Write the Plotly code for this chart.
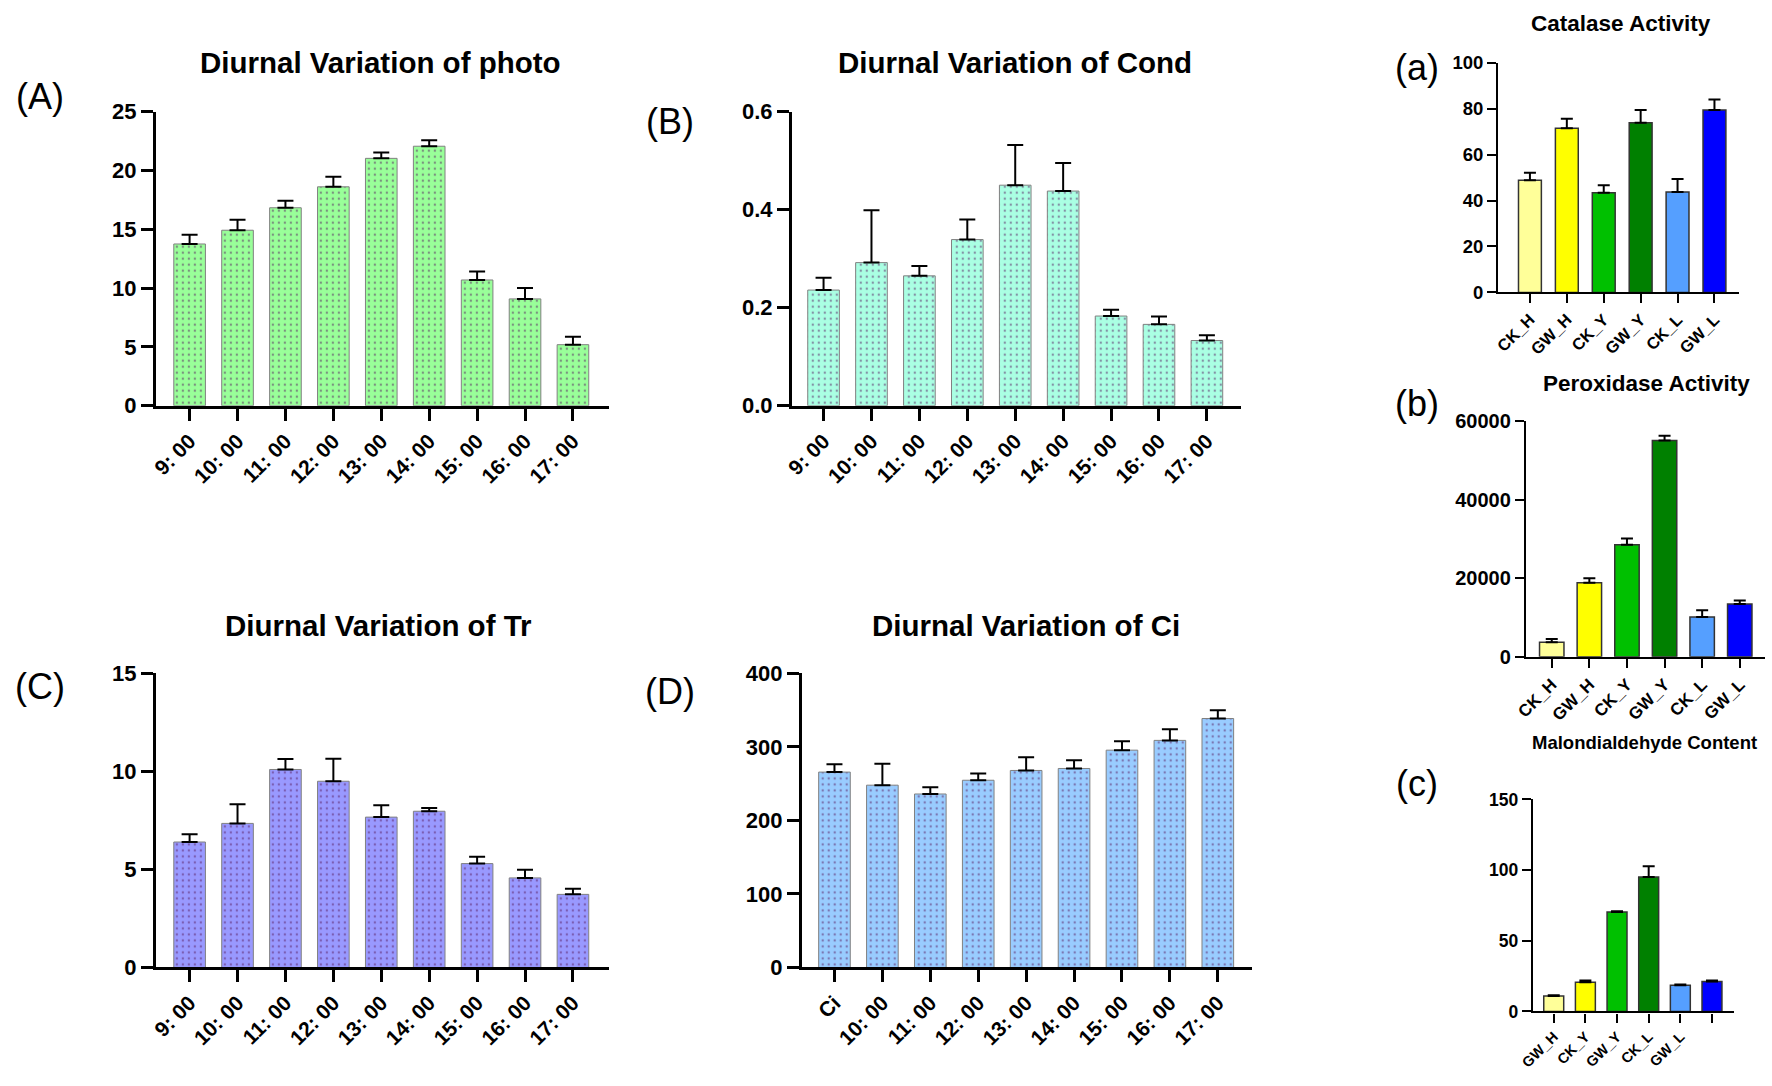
import plotly.graph_objects as go

W, H = 1772, 1086

# ---------------- data ----------------
times = ["9: 00", "10: 00", "11: 00", "12: 00", "13: 00", "14: 00", "15: 00", "16: 00", "17: 00"]
times_ci = ["Ci", "10: 00", "11: 00", "12: 00", "13: 00", "14: 00", "15: 00", "16: 00", "17: 00"]

photo_mean = [13.75, 14.92, 16.83, 18.61, 21.03, 22.06, 10.69, 9.08, 5.19]
photo_err = [0.78, 0.88, 0.59, 0.86, 0.50, 0.50, 0.73, 0.92, 0.67]

cond_mean = [0.236, 0.292, 0.265, 0.339, 0.450, 0.438, 0.183, 0.166, 0.133]
cond_err = [0.025, 0.107, 0.020, 0.041, 0.082, 0.057, 0.013, 0.016, 0.011]

tr_mean = [6.40, 7.35, 10.10, 9.50, 7.67, 7.97, 5.30, 4.57, 3.73]
tr_err = [0.40, 0.98, 0.53, 1.15, 0.60, 0.16, 0.35, 0.41, 0.29]

ci_mean = [265.8, 248.0, 236.0, 254.7, 268.0, 270.7, 295.6, 308.9, 338.7]
ci_err = [10.6, 29.3, 9.3, 9.3, 18.0, 11.3, 12.0, 15.1, 11.3]

groups = ["CK_H", "GW_H", "CK_Y", "GW_Y", "CK_L", "GW_L"]
group_colors = ["#FFFF99", "#FFFF00", "#00C000", "#008000", "#559FFF", "#0000FF"]

cat_mean = [48.8, 71.5, 43.4, 73.9, 43.7, 79.4]
cat_err = [3.3, 4.1, 3.3, 5.5, 5.7, 4.6]

pod_mean = [3730, 18840, 28550, 55100, 10120, 13440]
pod_err = [830, 1160, 1580, 1240, 1740, 910]

mda_labels = ["GW_H", "CK_Y", "GW_Y", "CK_L", "GW_L", ""]
mda_mean = [11.0, 20.7, 70.4, 95.2, 18.6, 21.2]
mda_err = [0.5, 1.2, 0.5, 7.6, 0.5, 0.7]

FONT = "Liberation Sans, Arial, sans-serif"


def fx(px):
    return px / W


def fy(py):
    return 1 - py / H


panels = [
    dict(x0=143, x1=600, first=177, step=48.3, ytop=102, ybot=403, ymax=25, dtick=5, fmt="",
         labels=times, mean=photo_mean, err=photo_err, color="#99FF99", dotted=True,
         title="Diurnal Variation of photo", tx=369, ty=52, tsize=29.5,
         tick=22, xtick=21, bw=0.66, lw=2.8, tl=12, cap=8,
         letter="(A)", lx=26, ly=86),
    dict(x0=784, x1=1237, first=816, step=48.3, ytop=102, ybot=403, ymax=0.6, dtick=0.2, fmt=".1f",
         labels=times, mean=cond_mean, err=cond_err, color="#AAFFE3", dotted=True,
         title="Diurnal Variation of Cond", tx=1009, ty=52, tsize=29.5,
         tick=22, xtick=21, bw=0.66, lw=2.8, tl=12, cap=8,
         letter="(B)", lx=661, ly=112),
    dict(x0=143, x1=600, first=177, step=48.3, ytop=677, ybot=978, ymax=15, dtick=5, fmt="",
         labels=times, mean=tr_mean, err=tr_err, color="#9999FF", dotted=True,
         title="Diurnal Variation of Tr", tx=367, ty=628, tsize=29.5,
         tick=22, xtick=21, bw=0.66, lw=2.8, tl=12, cap=8,
         letter="(C)", lx=26, ly=690),
    dict(x0=794, x1=1248, first=827, step=48.3, ytop=677, ybot=978, ymax=400, dtick=100, fmt="",
         labels=times_ci, mean=ci_mean, err=ci_err, color="#99CCFF", dotted=True,
         title="Diurnal Variation of Ci", tx=1020, ty=628, tsize=29.5,
         tick=22, xtick=21, bw=0.66, lw=2.8, tl=12, cap=8,
         letter="(D)", lx=661, ly=695),
    dict(x0=1496, x1=1739, first=1528, step=37.2, ytop=52, ybot=287, ymax=100, dtick=20, fmt="",
         labels=groups, mean=cat_mean, err=cat_err, color=group_colors, dotted=False,
         title="Catalase Activity", tx=1620, ty=12, tsize=22.5,
         tick=18.5, xtick=16.5, bw=0.62, lw=2.2, tl=9, cap=6,
         letter="(a)", lx=1414, ly=57),
    dict(x0=1524, x1=1765, first=1550, step=37.9, ytop=419, ybot=660, ymax=60000, dtick=20000, fmt="d",
         labels=groups, mean=pod_mean, err=pod_err, color=group_colors, dotted=False,
         title="Peroxidase Activity", tx=1645, ty=380, tsize=22.5,
         tick=20, xtick=17, bw=0.65, lw=2.2, tl=9, cap=6,
         letter="(b)", lx=1414, ly=401),
    dict(x0=1531, x1=1734, first=1552, step=31.9, ytop=806, ybot=1023, ymax=150, dtick=50, fmt="",
         labels=mda_labels, mean=mda_mean, err=mda_err, color=group_colors, dotted=False,
         title="Malondialdehyde Content", tx=1643, ty=748, tsize=18.5,
         tick=17.5, xtick=14.5, bw=0.63, lw=2.2, tl=9, cap=6,
         letter="(c)", lx=1414, ly=790),
]

fig = go.Figure()
annotations = []
layout_axes = {}

for i, p in enumerate(panels, start=1):
    xa = "x" if i == 1 else f"x{i}"
    ya = "y" if i == 1 else f"y{i}"
    n = len(p["mean"])
    xs = list(range(n))
    if p["dotted"]:
        marker = dict(
            color=p["color"],
            line=dict(color="#808080", width=1),
            pattern=dict(shape=".", bgcolor=p["color"], fgcolor="#5A1E62",
                         size=6, solidity=0.12, fillmode="overlay"),
        )
    else:
        marker = dict(color=p["color"], line=dict(color="#333333", width=1.5))
    fig.add_trace(go.Bar(
        x=xs, y=p["mean"], width=p["bw"], marker=marker,
        error_y=dict(type="data", array=p["err"], arrayminus=[0] * n, symmetric=False,
                     color="black", thickness=2, width=p["cap"]),
        xaxis=xa, yaxis=ya, showlegend=False, hoverinfo="skip",
    ))
    xr = [(p["x0"] - p["first"]) / p["step"], (p["x1"] - p["first"]) / p["step"]]
    key_x = "xaxis" if i == 1 else f"xaxis{i}"
    key_y = "yaxis" if i == 1 else f"yaxis{i}"
    layout_axes[key_x] = dict(
        domain=[fx(p["x0"]), fx(p["x1"])], anchor=ya, range=xr,
        tickmode="array", tickvals=xs, ticktext=p["labels"], tickangle=-45,
        showline=True, linecolor="black", linewidth=p["lw"],
        ticks="outside", ticklen=p["tl"], tickwidth=p["lw"], tickcolor="black",
        showgrid=False, zeroline=False, fixedrange=True,
        tickfont=dict(family=FONT, size=p["xtick"], color="black", weight="bold"),
    )
    layout_axes[key_y] = dict(
        domain=[fy(p["ybot"]), fy(p["ytop"])], anchor=xa, range=[0, p["ymax"]],
        dtick=p["dtick"], tick0=0, tickformat=p["fmt"],
        showline=True, linecolor="black", linewidth=p["lw"],
        ticks="outside", ticklen=p["tl"], tickwidth=p["lw"], tickcolor="black",
        showgrid=False, zeroline=False, fixedrange=True,
        tickfont=dict(family=FONT, size=p["tick"], color="black", weight="bold"),
    )
    annotations.append(dict(
        text=f"<b>{p['title']}</b>", x=fx(p["tx"]), y=fy(p["ty"]), xref="paper", yref="paper",
        xanchor="center", yanchor="middle", showarrow=False,
        font=dict(family=FONT, size=p["tsize"], color="black"),
    ))
    annotations.append(dict(
        text=p["letter"], x=fx(p["lx"]), y=fy(p["ly"]), xref="paper", yref="paper",
        xanchor="center", yanchor="middle", showarrow=False,
        font=dict(family=FONT, size=36, color="black"),
    ))

fig.update_layout(
    width=W, height=H, autosize=False,
    margin=dict(l=0, r=0, t=0, b=0),
    paper_bgcolor="white", plot_bgcolor="white",
    annotations=annotations,
    **layout_axes,
)

fig.write_html(
    "out.html",
    config={"displayModeBar": False},
    post_script="document.body.style.margin='0';document.body.style.overflow='hidden';",
)
